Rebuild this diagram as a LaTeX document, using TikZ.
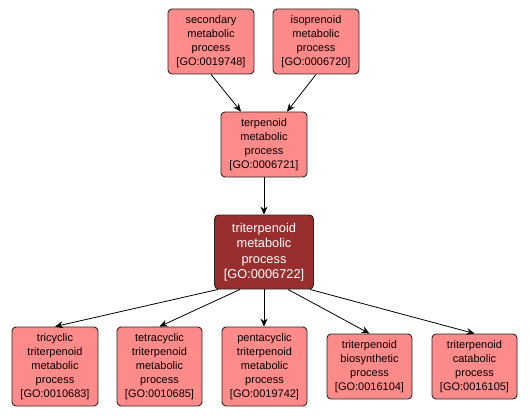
\documentclass[tikz,border=0pt]{standalone}
\usepackage{fontspec}
\setmainfont{Liberation Sans}
\usetikzlibrary{arrows.meta}
\definecolor{lightgo}{RGB}{255,138,138}
\definecolor{darkgo}{RGB}{153,46,46}
\tikzset{
  goterm/.style={draw=black!85, line width=0.9pt, rounded corners=4pt, fill=lightgo,
    align=center, inner sep=0pt, font=\fontsize{11}{14}\selectfont, text=black},
  gomain/.style={goterm, fill=darkgo, text=white, font=\fontsize{12.8}{15.5}\selectfont},
  goedge/.style={draw=black, line width=0.8pt, -{Stealth[length=8pt,width=7pt]}}
}
\begin{document}
\begin{tikzpicture}[x=1pt,y=1pt]
\useasboundingbox (0,0) rectangle (530,416);
\node[goterm, minimum width=86pt, minimum height=65pt] (sec) at (211,374.5) {secondary\\metabolic\\process\\{[GO:0019748]}};
\node[goterm, minimum width=86pt, minimum height=65pt] (iso) at (316,374.5) {isoprenoid\\metabolic\\process\\{[GO:0006720]}};
\node[goterm, minimum width=86pt, minimum height=65pt] (terp) at (264,271.5) {terpenoid\\metabolic\\process\\{[GO:0006721]}};
\node[gomain, minimum width=99pt, minimum height=74pt] (main) at (264,164) {triterpenoid\\metabolic\\process\\{[GO:0006722]}};
\node[goterm, minimum width=86pt, minimum height=79pt] (tri) at (55,49.5) {tricyclic\\triterpenoid\\metabolic\\process\\{[GO:0010683]}};
\node[goterm, minimum width=85pt, minimum height=79pt] (tetra) at (159.5,49.5) {tetracyclic\\triterpenoid\\metabolic\\process\\{[GO:0010685]}};
\node[goterm, minimum width=85pt, minimum height=79pt] (penta) at (264.5,49.5) {pentacyclic\\triterpenoid\\metabolic\\process\\{[GO:0019742]}};
\node[goterm, minimum width=85pt, minimum height=65pt] (bio) at (369.5,49.5) {triterpenoid\\biosynthetic\\process\\{[GO:0016104]}};
\node[goterm, minimum width=85pt, minimum height=65pt] (cat) at (474.5,49.5) {triterpenoid\\catabolic\\process\\{[GO:0016105]}};
\draw[goedge] (sec.south) -- ([xshift=-23pt]terp.north);
\draw[goedge] (iso.south) -- ([xshift=23pt]terp.north);
\draw[goedge] (terp.south) -- (main.north);
\draw[goedge] ([xshift=-46pt]main.south) -- (tri.north);
\draw[goedge] ([xshift=-24pt]main.south) -- (tetra.north);
\draw[goedge] (main.south) -- (penta.north -| main.south);
\draw[goedge] ([xshift=24pt]main.south) -- (bio.north);
\draw[goedge] ([xshift=46pt]main.south) -- (cat.north);
\end{tikzpicture}
\end{document}
